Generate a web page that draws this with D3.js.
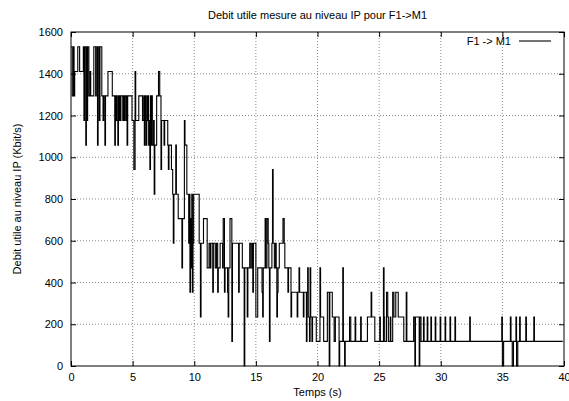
<!DOCTYPE html>
<html lang="fr">
<head>
<meta charset="UTF-8">
<title>Debit utile mesure au niveau IP pour F1->M1</title>
<script src="https://d3js.org/d3.v7.min.js"></script>
<style>
  body { margin: 0; background: #fff; }
  svg { display: block; font-family: 'Liberation Sans', Arial, sans-serif; }
  .grid line { stroke: #8a8a8a; stroke-width: 1; stroke-dasharray: 1,2; }
  .axis path { display: none; }
  .axis line { stroke: #000; }
  .axis text { font-size: 11px; fill: #000; }
  .lbl { font-size: 11px; fill: #000; }
</style>
</head>
<body>
<svg width="569" height="401"></svg>
<script>
// measured throughput, Kbit/s, one entry per change of value: [time (s), rate]
const series = [
  [0,1529],[0.1,1294],[0.2,1529],[0.25,1294],[0.3,1411],[0.55,1529],[0.7,1411],[1.0,1529],
  [1.05,1176],[1.1,1529],[1.2,1058],[1.25,1529],[1.3,1176],[1.35,1529],[1.45,1294],[1.55,1411],
  [1.6,1294],[1.85,1529],[2.0,1294],[2.05,1529],[2.15,1058],[2.2,1529],[2.3,1176],[2.35,1529],
  [2.5,1294],[2.6,1176],[2.65,1294],[2.75,1058],[2.8,1294],[3.0,1411],[3.35,1294],[3.55,1058],
  [3.6,1294],[3.65,1176],[3.7,1294],[3.75,1176],[3.8,1058],[3.85,1294],[3.9,1176],[3.95,1294],
  [4.0,1176],[4.05,1294],[4.2,1176],[4.25,1294],[4.3,1176],[4.35,1294],[4.45,1176],[4.5,1294],
  [4.55,1058],[4.6,1294],[4.95,1176],[5.1,941],[5.2,1411],[5.25,1176],[5.5,1294],[5.8,1176],
  [5.9,1294],[5.95,1058],[6.0,1294],[6.05,1176],[6.1,1058],[6.15,1294],[6.2,1176],[6.25,1294],
  [6.3,1058],[6.35,1176],[6.4,941],[6.45,1294],[6.5,1058],[6.55,1294],[6.6,1058],[6.7,1176],
  [6.75,823],[6.8,1058],[6.95,1294],[7.1,1411],[7.2,1294],[7.3,941],[7.35,1176],[7.55,1058],
  [7.6,1176],[7.85,1058],[7.9,941],[7.95,1058],[8.15,941],[8.25,823],[8.3,588],[8.35,823],
  [8.5,1058],[8.55,823],[8.7,706],[9.0,470],[9.05,706],[9.2,1176],[9.25,1058],[9.4,823],
  [9.55,588],[9.6,823],[9.65,353],[9.7,706],[9.75,470],[9.8,823],[9.85,353],[9.9,588],
  [9.95,823],[10.4,588],[10.5,235],[10.55,588],[10.75,706],[11.05,470],[11.2,588],[11.3,470],
  [11.35,588],[11.5,353],[11.55,588],[11.7,470],[11.8,588],[11.9,353],[11.95,470],[12.1,588],
  [12.3,470],[12.35,706],[12.45,353],[12.5,470],[12.7,353],[12.75,235],[12.8,470],[12.9,706],
  [13.05,118],[13.1,588],[13.6,353],[13.65,588],[13.9,470],[14.05,0],[14.1,470],[14.3,235],
  [14.35,470],[14.5,588],[14.6,470],[14.7,588],[14.75,353],[14.8,588],[15.0,235],[15.15,470],
  [15.5,353],[15.55,235],[15.6,470],[15.75,706],[15.8,470],[15.9,706],[16.0,588],[16.05,470],
  [16.1,118],[16.15,470],[16.3,588],[16.35,941],[16.4,588],[16.5,470],[16.6,588],[16.65,470],
  [16.7,235],[16.75,353],[16.8,470],[16.9,588],[17.2,706],[17.3,588],[17.35,470],[17.6,353],
  [17.65,470],[17.85,235],[17.9,353],[18.35,235],[18.4,353],[18.5,470],[18.55,353],[18.85,235],
  [18.9,353],[19.1,118],[19.15,353],[19.2,470],[19.25,235],[19.35,118],[19.4,470],[19.45,235],
  [19.55,118],[19.6,235],[19.9,118],[20.2,470],[20.25,235],[20.5,118],[20.8,353],[20.95,0],
  [21.0,353],[21.2,235],[21.35,118],[21.45,235],[21.75,0],[21.8,118],[22.05,470],[22.1,118],
  [22.2,0],[22.25,118],[22.6,235],[22.7,118],[23.05,235],[23.1,118],[23.5,235],[23.55,118],
  [24.05,235],[24.35,353],[24.4,235],[24.65,118],[25.05,235],[25.1,118],[25.35,470],[25.4,235],
  [25.45,118],[25.6,353],[25.7,235],[25.75,118],[25.9,235],[25.95,118],[26.1,353],[26.2,235],
  [26.35,353],[26.55,235],[27.0,118],[27.2,353],[27.25,118],[27.8,235],[27.9,0],[27.95,235],
  [28.25,0],[28.3,235],[28.4,118],[28.6,235],[28.65,118],[28.9,235],[28.95,118],[29.2,235],
  [29.25,118],[29.55,235],[29.6,118],[29.95,235],[30.0,118],[30.35,235],[30.4,118],[30.75,235],
  [30.8,118],[31.15,235],[31.2,118],[32.35,235],[32.4,118],[34.95,235],[35.0,0],[35.1,118],
  [35.65,235],[35.7,118],[35.8,0],[35.9,118],[36.1,235],[36.15,0],[36.25,118],[36.4,235],
  [36.45,118],[36.9,235],[36.95,118],[37.55,235],[37.6,118],[39.9,118]
];

const xTicks = [0, 5, 10, 15, 20, 25, 30, 35, 40];
const yTicks = [0, 200, 400, 600, 800, 1000, 1200, 1400, 1600];
const title = "Debit utile mesure au niveau IP pour F1->M1";
const xLabel = "Temps (s)";
const yLabel = "Debit utile au niveau IP (Kbit/s)";
const seriesName = "F1 -> M1";

const svg = d3.select("svg");
const plotLeft = 71, plotRight = 564, plotTop = 32, plotBottom = 366;

const x = d3.scaleLinear().domain([0, 40]).range([plotLeft, plotRight]);
const y = d3.scaleLinear().domain([0, 1600]).range([plotBottom, plotTop]);

// dotted grid
const grid = svg.append("g").attr("class", "grid");
grid.selectAll(".gx")
    .data(xTicks.slice(1, -1))
    .enter().append("line")
    .attr("x1", d => x(d)).attr("x2", d => x(d))
    .attr("y1", plotTop).attr("y2", plotBottom);
grid.selectAll(".gy")
    .data(yTicks.slice(1, -1))
    .enter().append("line")
    .attr("x1", plotLeft).attr("x2", plotRight)
    .attr("y1", d => y(d)).attr("y2", d => y(d));

// axes with inward (mirrored) ticks
svg.append("g").attr("class", "axis")
    .attr("transform", `translate(${plotLeft},0)`)
    .call(d3.axisLeft(y).tickValues(yTicks).tickSize(-5).tickPadding(8).tickFormat(d3.format("d")));
svg.append("g").attr("class", "axis")
    .attr("transform", `translate(${plotRight},0)`)
    .call(d3.axisRight(y).tickValues(yTicks).tickSize(-5).tickFormat(""));
svg.append("g").attr("class", "axis")
    .attr("transform", `translate(0,${plotBottom})`)
    .call(d3.axisBottom(x).tickValues(xTicks).tickSize(-5).tickPadding(7).tickFormat(d3.format("d")));
svg.append("g").attr("class", "axis")
    .attr("transform", `translate(0,${plotTop})`)
    .call(d3.axisTop(x).tickValues(xTicks).tickSize(-5).tickFormat(""));

svg.append("rect")
    .attr("x", plotLeft).attr("y", plotTop)
    .attr("width", plotRight - plotLeft).attr("height", plotBottom - plotTop)
    .attr("fill", "none").attr("stroke", "#000").attr("stroke-width", 1);

// step line (gnuplot "with steps")
const line = d3.line()
    .x(d => x(d[0]))
    .y(d => y(d[1]))
    .curve(d3.curveStepAfter);

svg.append("path")
    .datum(series)
    .attr("d", line)
    .attr("fill", "none")
    .attr("stroke", "#000")
    .attr("stroke-width", 1.1);

// titles
svg.append("text").attr("class", "lbl")
    .attr("x", (plotLeft + plotRight) / 2).attr("y", 19)
    .attr("text-anchor", "middle").text(title);
svg.append("text").attr("class", "lbl")
    .attr("x", (plotLeft + plotRight) / 2).attr("y", 396)
    .attr("text-anchor", "middle").text(xLabel);
svg.append("text").attr("class", "lbl")
    .attr("transform", `translate(21,${(plotTop + plotBottom) / 2}) rotate(-90)`)
    .attr("text-anchor", "middle").text(yLabel);

// legend
svg.append("text").attr("class", "lbl")
    .attr("x", 511).attr("y", 45)
    .attr("text-anchor", "end").text(seriesName);
svg.append("line")
    .attr("x1", 519).attr("x2", 551)
    .attr("y1", 41).attr("y2", 41)
    .attr("stroke", "#000").attr("stroke-width", 1.1);
</script>
</body>
</html>
